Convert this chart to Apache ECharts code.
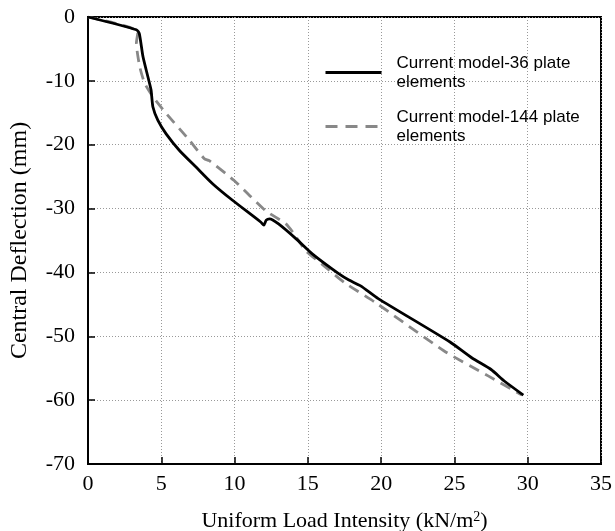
<!DOCTYPE html>
<html><head><meta charset="utf-8">
<script src="https://cdn.jsdelivr.net/npm/echarts@6/dist/echarts.min.js"></script>
<style>html,body{margin:0;padding:0;background:#fff}#c{width:615px;height:531px}</style>
</head><body><div id="c"></div>
<script>
var seriesNames = ['Current model-36 plate\nelements', 'Current model-144 plate\nelements'];
var load36 = [0, 3.3, 3.5, 3.75, 4.09, 4.3, 4.43, 4.77, 5.33, 6.24, 7.37, 8.5, 9.86, 11.78, 12.0, 12.16, 12.39, 13.0, 14.18, 15.3, 17.1, 17.8, 18.6, 19.8, 24.7, 26.2, 27.5, 28.4, 29.7];
var defl36 = [0, -2.0, -2.6, -6.2, -9.4, -11.4, -14.1, -16.2, -18.3, -20.9, -23.5, -26.1, -28.7, -32.1, -32.6, -31.8, -31.6, -32.4, -34.7, -37.1, -40.2, -41.2, -42.1, -44.1, -50.9, -53.4, -55.2, -57.0, -59.2];
var load144 = [0, 3.41, 3.3, 3.53, 3.87, 4.43, 5.33, 6.92, 7.94, 8.27, 9.97, 11.0, 12.1, 13.5, 14.04, 14.85, 15.96, 17.5, 19.6, 24.3, 27.3, 29.6];
var defl144 = [0, -2.3, -4.1, -7.8, -10.4, -12.5, -15.1, -19.3, -22.2, -22.5, -25.6, -27.9, -30.3, -32.4, -33.9, -36.6, -38.7, -41.6, -44.7, -52.3, -56.2, -59.2];
var xTicks = [0, 5, 10, 15, 20, 25, 30, 35];
var yTicks = [0, -10, -20, -30, -40, -50, -60, -70];

function pairs(xs, ys) { return xs.map(function (x, i) { return [x, ys[i]]; }); }

var chart = echarts.init(document.getElementById('c'), null, {renderer: 'canvas'});
var serif = '"Liberation Serif", "Times New Roman", serif';
var legendText = {fontFamily: '"Liberation Sans", Arial, sans-serif', fontSize: 17, color: '#000', lineHeight: 19, padding: [19, 0, 0, 10]};
function legendFor(name, top, dash, color) {
  return {orient: 'vertical', left: 324, top: top, padding: 0, itemWidth: 56, itemHeight: 14,
    itemStyle: {opacity: 0}, lineStyle: {width: 3, type: dash, color: color},
    textStyle: legendText, data: [{name: name}]};
}
chart.setOption({
  animation: false,
  grid: {left: 88, right: 14, top: 17, bottom: 67, outerBoundsMode: 'none', containLabel: false,
         show: true, borderColor: '#000', borderWidth: 2, backgroundColor: 'transparent'},
  legend: [legendFor(seriesNames[0], 44, 'solid', '#000'), legendFor(seriesNames[1], 98, [12, 8], '#888')],
  xAxis: {
    type: 'value', min: xTicks[0], max: xTicks[xTicks.length - 1], interval: 5,
    name: 'Uniform Load Intensity (kN/m{sup|2})', nameLocation: 'middle', nameGap: 46,
    nameTextStyle: {fontFamily: serif, fontSize: 22, lineHeight: 22, color: '#000', rich: {sup: {fontFamily: serif, fontSize: 14, lineHeight: 22, verticalAlign: 'top', padding: [0, 0, 10, 0]}}},
    axisLine: {onZero: false, lineStyle: {color: '#000', width: 2}},
    axisTick: {inside: true, length: 7, lineStyle: {color: '#000', width: 1.5}},
    axisLabel: {fontFamily: serif, fontSize: 22, color: '#000', margin: 9},
    splitLine: {lineStyle: {color: '#999', type: [1, 2], width: 1}}
  },
  yAxis: {
    type: 'value', min: yTicks[yTicks.length - 1], max: yTicks[0], interval: 10,
    name: 'Central Deflection (mm)', nameLocation: 'middle', nameGap: 56,
    nameTextStyle: {fontFamily: serif, fontSize: 24, color: '#000'},
    axisLine: {onZero: false, lineStyle: {color: '#000', width: 2}},
    axisTick: {inside: true, length: 7, lineStyle: {color: '#000', width: 1.5}},
    axisLabel: {fontFamily: serif, fontSize: 22, color: '#000', margin: 13, padding: [12, 0, 0, 0]},
    splitLine: {lineStyle: {color: '#999', type: [1, 2], width: 1}}
  },
  series: [
    {name: seriesNames[0], type: 'line', data: pairs(load36, defl36), symbol: 'none', smooth: 0.2,
     lineStyle: {color: '#000', width: 2.8}, itemStyle: {color: '#000'}, z: 3},
    {name: seriesNames[1], type: 'line', data: pairs(load144, defl144), symbol: 'none', smooth: 0.2,
     lineStyle: {color: '#888', width: 2.8, type: [11, 7]}, itemStyle: {color: '#888'}, z: 2}
  ]
});
</script></body></html>
